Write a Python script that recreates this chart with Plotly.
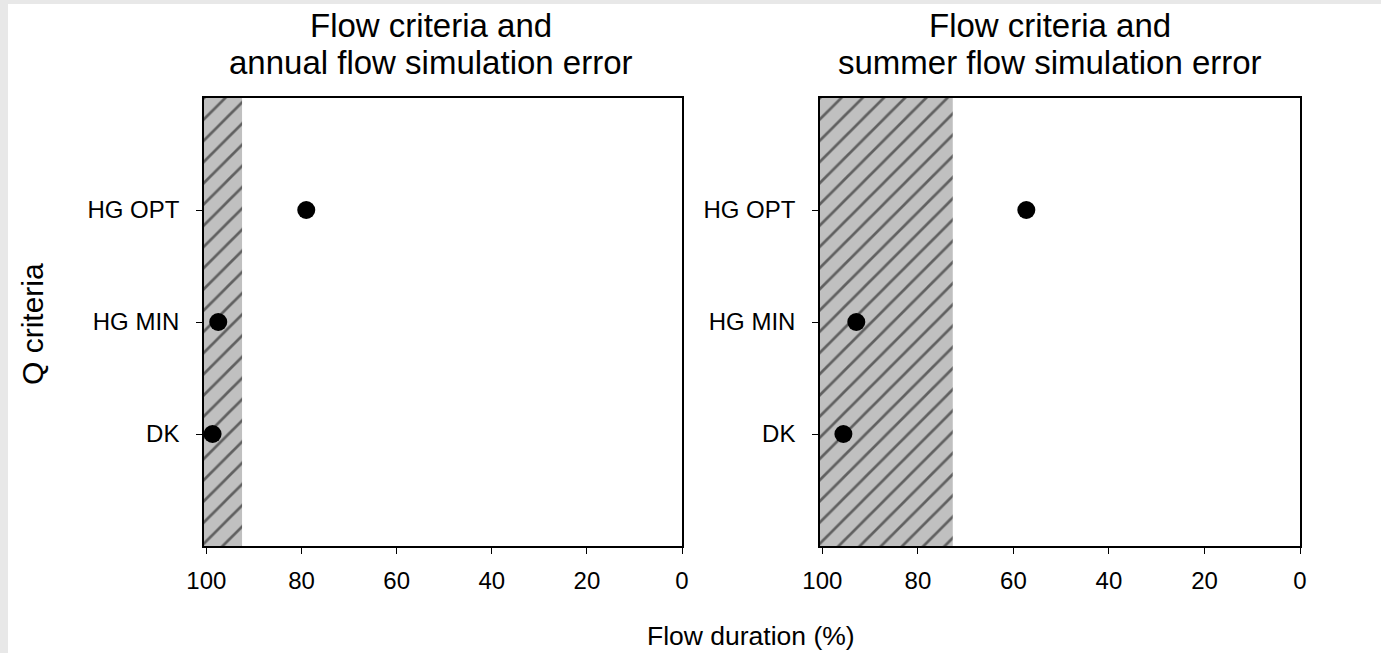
import plotly.graph_objects as go

categories = ["DK", "HG MIN", "HG OPT"]
annual_duration = [98.7, 97.5, 79.0]
summer_duration = [95.6, 92.9, 57.3]
annual_error_limit = 92.5
summer_error_limit = 72.7
x_ticks = [100, 80, 60, 40, 20, 0]
titles = [["Flow criteria and", "annual flow simulation error"],
          ["Flow criteria and", "summer flow simulation error"]]

W, H = 1381, 653
ML, MR, MT, MB = 204, 81, 98, 107
PW, PH = W - ML - MR, H - MT - MB
FONT = "Liberation Sans, Arial, sans-serif"

fig = go.Figure()
ypos = {c: i + 1 for i, c in enumerate(categories)}
XMAX = 100.5

for k, (vals, lim) in enumerate([(annual_duration, annual_error_limit),
                                  (summer_duration, summer_error_limit)]):
    xa = "x" if k == 0 else "x2"
    ya = "y" if k == 0 else "y2"
    fig.add_trace(go.Scatter(
        x=[XMAX, lim, lim, XMAX, XMAX], y=[0, 0, 4, 4, 0],
        fill="toself", mode="none", fillcolor="#c0c0c0",
        fillpattern=dict(shape="/", fgcolor="#000000", bgcolor="#c0c0c0",
                         size=15, solidity=0.18, fillmode="overlay"),
        xaxis=xa, yaxis=ya, showlegend=False, hoverinfo="skip"))
    fig.add_trace(go.Scatter(
        x=vals, y=[ypos[c] for c in categories], mode="markers",
        marker=dict(color="black", size=18),
        xaxis=xa, yaxis=ya, showlegend=False))

d1 = [0, (682 - ML) / PW]
d2 = [(820 - ML) / PW, 1]
axis_common = dict(showline=True, linecolor="black", linewidth=1.6, mirror=True,
                   ticks="outside", ticklen=6, tickcolor="black", tickwidth=1,
                   showgrid=False, zeroline=False,
                   tickfont=dict(family=FONT, size=24, color="black"))
fig.update_layout(
    width=W, height=H,
    margin=dict(l=ML, r=MR, t=MT, b=MB),
    paper_bgcolor="#e8e8e8", plot_bgcolor="white",
    xaxis=dict(domain=d1, range=[XMAX, 0], tickvals=x_ticks, anchor="y",
               ticklabelstandoff=6, **axis_common),
    xaxis2=dict(domain=d2, range=[XMAX, 0], tickvals=x_ticks, anchor="y2",
                ticklabelstandoff=6, **axis_common),
    yaxis=dict(range=[0, 4], tickvals=[1, 2, 3], ticktext=categories, anchor="x",
               ticklabelstandoff=12, **axis_common),
    yaxis2=dict(range=[0, 4], tickvals=[1, 2, 3], ticktext=categories, anchor="x2",
                ticklabelstandoff=12, **axis_common),
    font=dict(family=FONT, color="black"),
)

# white page area (gray frame strip on left and top)
fig.add_shape(type="rect", xref="paper", yref="paper", layer="below",
              x0=(8 - ML) / PW, x1=1.2, y0=-0.4, y1=(H - MB - 4) / PH,
              fillcolor="white", line=dict(width=0))

def py(pix):
    return (H - MB - pix) / PH

def px(pix):
    return (pix - ML) / PW

for k, cx in enumerate([431, 1050]):
    for j, cy in enumerate([26, 62]):
        fig.add_annotation(text=titles[k][j], xref="paper", yref="paper",
                           x=px(cx), y=py(cy), xanchor="center", yanchor="middle",
                           showarrow=False, font=dict(family=FONT, size=33, color="black"))

fig.add_annotation(text="Flow duration (%)", xref="paper", yref="paper",
                   x=px(751), y=py(636), xanchor="center", yanchor="middle",
                   showarrow=False, font=dict(family=FONT, size=26.5, color="black"))
fig.add_annotation(text="Q criteria", xref="paper", yref="paper",
                   x=px(32), y=py(324), xanchor="center", yanchor="middle", textangle=-90,
                   showarrow=False, font=dict(family=FONT, size=30, color="black"))

fig.write_html("out.html", config={"displayModeBar": False},
               post_script="document.body.style.margin='0';document.body.style.padding='0';")
